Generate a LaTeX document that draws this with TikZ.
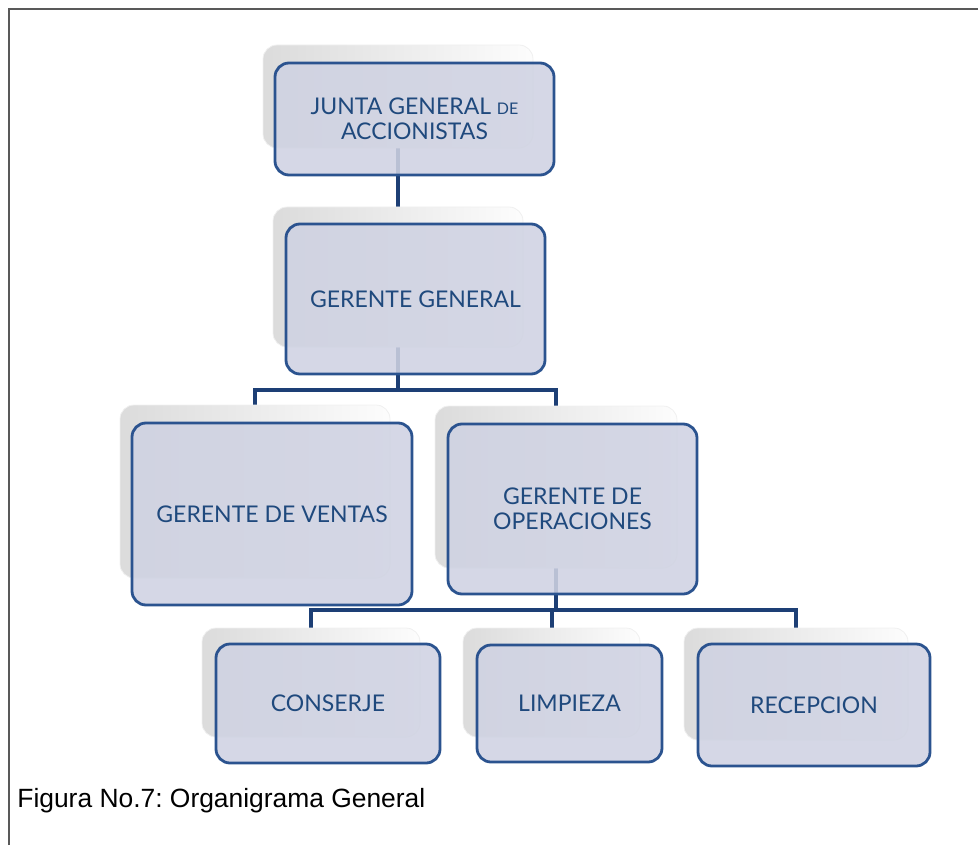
\documentclass[tikz,border=0pt]{standalone}
\usepackage{fontspec}
\setmainfont{Lato}
\newfontfamily\captionfont{Liberation Sans}
\usetikzlibrary{positioning,calc}
\definecolor{boxfill}{HTML}{CFD2E2}
\definecolor{boxline}{HTML}{2B538F}
\definecolor{boxtext}{HTML}{1F497D}
\definecolor{linkblue}{HTML}{1D3F75}
\pgfdeclarelayer{links}
\pgfdeclarelayer{backs}
\pgfsetlayers{links,backs,main}
\frenchspacing

\begin{document}
\begin{tikzpicture}[x=0.5pt,y=-0.5pt,card/.style={draw=boxline, line width=1.4pt, rounded corners=7pt, fill=boxfill, fill opacity=0.88, text opacity=1, text=boxtext, align=center, inner sep=0pt, font=\fontsize{11.5}{12.5}\selectfont},back/.style={draw=black!6, rounded corners=7pt, left color=black!14, right color=black!1, inner sep=0pt},link/.style={draw=linkblue, line width=2pt}]
\useasboundingbox (0,0) rectangle (978,845);
\draw[black!65, line width=0.9pt] (9,845) |- (978,9);
\node[card, minimum width=139.5pt, minimum height=56pt] (junta) at (414.5,119) {JUNTA GENERAL {\fontsize{8}{10}\selectfont DE}\\ACCIONISTAS};
\node[card, minimum width=129.5pt, minimum height=75pt] (gg) at (415.5,299) {GERENTE GENERAL};
\node[card, minimum width=140pt, minimum height=91pt] (ventas) at (272,514) {GERENTE DE VENTAS};
\node[card, minimum width=124.5pt, minimum height=85pt] (oper) at (572.5,509) {GERENTE DE\\OPERACIONES};
\node[card, minimum width=112pt, minimum height=59.5pt] (conserje) at (328,703.5) {CONSERJE};
\node[card, minimum width=92.5pt, minimum height=58.5pt] (limpieza) at (569.5,703.5) {LIMPIEZA};
\node[card, minimum width=116pt, minimum height=61pt] (recepcion) at (814,705) {RECEPCION};
\begin{pgfonlayer}{backs}
\node[back, minimum width=135pt, minimum height=51.5pt] (junta-b) at (398,96.5) {};
\node[back, minimum width=125pt, minimum height=70pt] (gg-b) at (398,277) {};
\node[back, minimum width=135pt, minimum height=86.5pt] (ventas-b) at (255,491.5) {};
\node[back, minimum width=121pt, minimum height=81pt] (oper-b) at (556,487) {};
\node[back, minimum width=109pt, minimum height=54.5pt] (conserje-b) at (311,682.5) {};
\node[back, minimum width=88.5pt, minimum height=54.5pt] (limpieza-b) at (551.5,682.5) {};
\node[back, minimum width=112pt, minimum height=56pt] (recepcion-b) at (796,684) {};
\end{pgfonlayer}
\begin{pgfonlayer}{links}
\coordinate (bar1) at (0,390);
\coordinate (bar2) at (0,610);
\draw[link] (junta-b.south) -- (gg-b.north);
\draw[link] (gg-b.south) -- (gg-b.south |- bar1);
\draw[link] (ventas-b.north) |- (oper-b.north |- bar1) -- (oper-b.north);
\draw[link] (oper-b.south) -- (oper-b.south |- bar2);
\draw[link] (conserje-b.north) |- (recepcion-b.north |- bar2) -- (recepcion-b.north);
\draw[link] (limpieza-b.north) -- (limpieza-b.north |- bar2);
\end{pgfonlayer}
\node[anchor=base west, inner sep=0pt, font=\captionfont\fontsize{13.2}{15}\selectfont] (caption) at (17,807) {Figura No.7: Organigrama General};
\end{tikzpicture}
\end{document}
